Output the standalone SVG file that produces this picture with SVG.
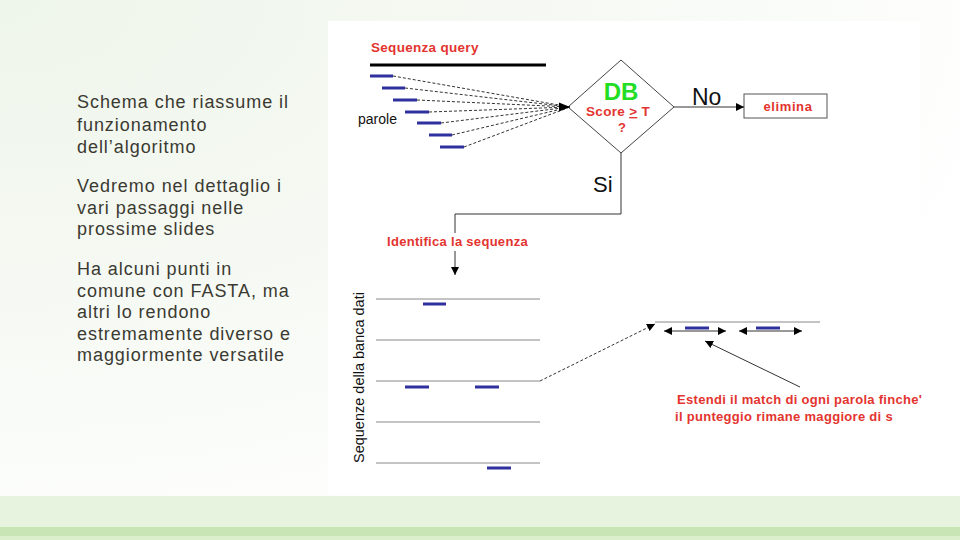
<svg xmlns="http://www.w3.org/2000/svg" width="960" height="540" viewBox="0 0 960 540">
<defs>
<radialGradient id="bg" cx="0" cy="0" r="1.1" gradientUnits="objectBoundingBox">
<stop offset="0" stop-color="#eef5ea"/>
<stop offset="0.6" stop-color="#f7faf5"/>
<stop offset="1" stop-color="#ffffff"/>
</radialGradient>
<marker id="ah" viewBox="0 0 10 10" refX="10" refY="5" markerWidth="8" markerHeight="8" markerUnits="userSpaceOnUse" orient="auto-start-reverse">
<path d="M0,0 L10,5 L0,10 z" fill="#000"/>
</marker>
<marker id="ahb" viewBox="0 0 10 10" refX="10" refY="5" markerWidth="11" markerHeight="11" markerUnits="userSpaceOnUse" orient="auto">
<path d="M0,1 L10,5 L0,9 z" fill="#000"/>
</marker>
<style>
.body{font-family:"Liberation Sans",Arial,sans-serif;font-size:18px;letter-spacing:0.95px;fill:#3b3a32}
.red{font-family:"Liberation Sans",Arial,sans-serif;font-weight:bold;font-size:13px;letter-spacing:0.3px;fill:#e3342f}
.lbl{font-family:"Liberation Sans",Arial,sans-serif;fill:#111}
.word{stroke:#2f2f9e;stroke-width:3}
.dash{stroke:#333;stroke-width:1;stroke-dasharray:3,2;fill:none}
.gl{stroke:#888;stroke-width:1}
.ln{stroke:#333;stroke-width:1;fill:none}
</style>
</defs>
<rect width="960" height="540" fill="url(#bg)"/>
<rect x="0" y="496" width="960" height="31" fill="#e8f3df"/>
<rect x="0" y="527" width="960" height="9" fill="#c8e6b5"/>
<rect x="0" y="536" width="960" height="4" fill="#dbefcd"/>
<rect x="328" y="21" width="592" height="474" fill="#ffffff"/>

<g id="text-left" class="body">
<text x="77" y="108">Schema che riassume il</text>
<text x="77" y="131">funzionamento</text>
<text x="77" y="153">dell’algoritmo</text>
<text x="77" y="192">Vedremo nel dettaglio i</text>
<text x="77" y="214">vari passaggi nelle</text>
<text x="77" y="235">prossime slides</text>
<text x="77" y="275">Ha alcuni punti in</text>
<text x="77" y="297">comune con FASTA, ma</text>
<text x="77" y="318">altri lo rendono</text>
<text x="77" y="340">estremamente diverso e</text>
<text x="77" y="361">maggiormente versatile</text>
</g>

<g id="query">
<text class="red" x="371" y="52" style="font-size:13.5px">Sequenza query</text>
<line x1="370" y1="65" x2="546" y2="65" stroke="#000" stroke-width="3"/>
<text class="lbl" x="358" y="124" font-size="14">parole</text>
<line class="word" x1="370" y1="76" x2="393" y2="76"/>
<line class="word" x1="382" y1="88" x2="405" y2="88"/>
<line class="word" x1="393" y1="100" x2="417" y2="100"/>
<line class="word" x1="405" y1="112" x2="429" y2="112"/>
<line class="word" x1="417" y1="123" x2="441" y2="123"/>
<line class="word" x1="429" y1="135" x2="452" y2="135"/>
<line class="word" x1="440" y1="147" x2="464" y2="147"/>
</g>

<g id="db">
<polygon points="621,60 674,107 621,153 568,107" fill="#fff" stroke="#444" stroke-width="1"/>
<text x="621" y="100" text-anchor="middle" font-family="Liberation Sans, Arial, sans-serif" font-weight="bold" font-size="24" fill="#22dd22">DB</text>
<text class="red" x="618" y="116" text-anchor="middle" style="font-size:13.5px">Score <tspan text-decoration="underline">&gt;</tspan> T</text>
<text class="red" x="622" y="132" text-anchor="middle" style="font-size:13px">?</text>
</g>

<g id="elimina">
<rect x="744" y="94" width="83" height="24" fill="#fff" stroke="#555" stroke-width="1"/>
<text class="red" x="788" y="111" text-anchor="middle" style="font-size:13px;letter-spacing:0.6px">elimina</text>
</g>

<g id="identifica">
<text class="red" x="387" y="246">Identifica la sequenza</text>
</g>

<g id="database">
<text class="lbl" transform="translate(364,463) rotate(-90)" font-size="14.5">Sequenze della banca dati</text>
<line class="gl" x1="376" y1="299" x2="540" y2="299"/>
<line class="gl" x1="376" y1="340" x2="540" y2="340"/>
<line class="gl" x1="376" y1="381" x2="540" y2="381"/>
<line class="gl" x1="376" y1="422" x2="540" y2="422"/>
<line class="gl" x1="376" y1="463" x2="540" y2="463"/>
<line class="word" x1="423" y1="304" x2="446" y2="304"/>
<line class="word" x1="405" y1="387" x2="429" y2="387"/>
<line class="word" x1="475" y1="387" x2="499" y2="387"/>
<line class="word" x1="487" y1="468" x2="511" y2="468"/>
</g>

<g id="extension">
<line class="gl" x1="655" y1="322" x2="820" y2="322" stroke="#666"/>
<line class="word" x1="685" y1="328" x2="709" y2="328"/>
<line class="word" x1="756" y1="328" x2="780" y2="328"/>
<text class="red" x="677" y="404">Estendi il match di ogni parola finche'</text>
<text class="red" x="675" y="421">il punteggio rimane maggiore di s</text>
</g>

<g id="connectors">
<path class="dash" d="M393,76 L570,107"/>
<path class="dash" d="M405,88 L570,107"/>
<path class="dash" d="M417,100 L570,107"/>
<path class="dash" d="M429,112 L570,107"/>
<path class="dash" d="M441,123 L570,107"/>
<path class="dash" d="M452,135 L570,107"/>
<path class="dash" d="M464,147 L570,107"/>
<path d="M556,107 L570,107" stroke="none" fill="none" marker-end="url(#ahb)"/>
<line class="ln" x1="674" y1="107" x2="744" y2="107" marker-end="url(#ah)"/>
<text class="lbl" x="692" y="105" font-size="23">No</text>
<polyline class="ln" points="621,153 621,214 455,214 455,233"/>
<line class="ln" x1="455" y1="251" x2="455" y2="275" marker-end="url(#ah)"/>
<text class="lbl" x="593" y="192" font-size="22">Si</text>
<path class="dash" d="M540,381 L655,324" marker-end="url(#ah)"/>
<line class="ln" x1="664" y1="331" x2="726" y2="331" marker-start="url(#ah)" marker-end="url(#ah)"/>
<line class="ln" x1="739" y1="331" x2="802" y2="331" marker-start="url(#ah)" marker-end="url(#ah)"/>
<line class="ln" x1="800" y1="387" x2="705" y2="341" marker-end="url(#ah)"/>
</g>
</svg>
